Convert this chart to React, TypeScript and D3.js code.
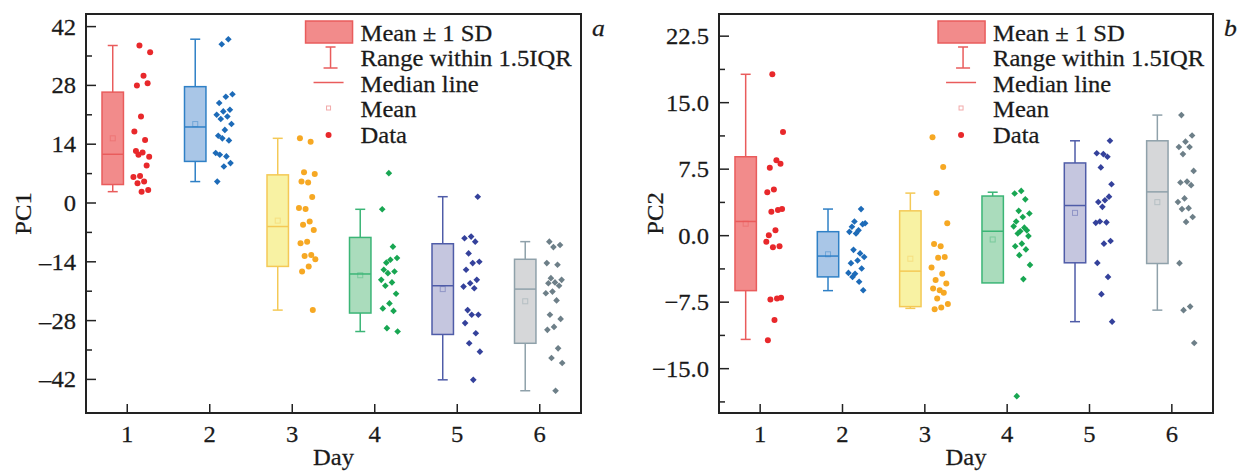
import React from 'react';
import * as d3 from 'd3';

// ---- data ----
const days = [1, 2, 3, 4, 5, 6];
const legendLabels = ['Mean \u00b1 1 SD', 'Range within 1.5IQR', 'Median line', 'Mean', 'Data'];

const pc1Ticks = [-42, -28, -14, 0, 14, 28, 42];
const pc1Minor = [-35, -21, -7, 7, 21, 35];
const pc1Mean = [15.4, 18.8, -4.2, -17.2, -20.5, -23.4];
const pc1Sd = [11.0, 8.9, 10.9, 9.0, 10.8, 10.0];
const pc1Median = [11.6, 18.1, -5.6, -16.9, -19.7, -20.5];
const pc1Low = [2.7, 5.1, -25.5, -30.6, -42.1, -44.7];
const pc1High = [37.5, 39.0, 15.4, -1.5, 1.5, -9.2];
const pc1Points = [
  [37.5, 35.9, 30.3, 28.0, 28.5, 20.6, 17.0, 15.0, 11.5, 11.0, 12.0, 12.4, 8.9, 6.4, 6.2, 5.1, 4.7, 3.1, 2.7],
  [39.0, 37.8, 25.9, 25.3, 23.8, 22.2, 21.8, 21.0, 20.6, 20.0, 18.8, 17.4, 16.0, 14.9, 15.4, 11.9, 11.1, 11.5, 9.5, 8.7, 5.1],
  [15.4, 14.6, 7.3, 6.9, 4.9, 5.1, 1.4, -1.4, -1.2, -4.4, -5.2, -6.4, -9.2, -9.6, -12.4, -12.6, -13.4, -15.1, -16.3, -25.5],
  [7.1, -1.5, -10.4, -14.2, -13.1, -13.5, -15.9, -16.3, -16.7, -18.3, -18.9, -19.7, -21.6, -23.9, -25.1, -25.7, -29.8, -30.6],
  [1.5, -8.0, -8.4, -9.2, -12.0, -14.0, -14.3, -15.9, -18.3, -19.1, -19.9, -20.3, -25.5, -26.6, -26.6, -28.6, -31.0, -33.4, -35.4, -42.1],
  [-9.2, -10.0, -10.5, -14.3, -14.7, -17.9, -18.3, -18.9, -19.1, -19.7, -21.1, -21.5, -23.2, -26.6, -27.6, -29.5, -30.2, -34.6, -36.9, -38.1, -44.7],
];

const pc2Ticks = [-15, -7.5, 0, 7.5, 15, 22.5];
const pc2Minor = [-18.75, -11.25, -3.75, 3.75, 11.25, 18.75];
const pc2Mean = [1.35, -2.1, -2.6, -0.43, 2.57, 3.78];
const pc2Sd = [7.55, 2.55, 5.4, 4.9, 5.63, 6.92];
const pc2Median = [1.6, -2.3, -4.0, 0.5, 3.4, 4.94];
const pc2Low = [-11.7, -6.2, -8.2, -5.0, -9.7, -8.4];
const pc2High = [18.2, 3.0, 4.8, 4.9, 10.7, 13.6];
const pc2Points = [
  [18.2, 11.7, 8.5, 7.65, 8.1, 5.2, 4.9, 2.9, 2.7, 3.0, 0.6, 0.05, -1.2, -1.3, -0.7, -7.1, -7.2, -7.0, -9.5, -11.8],
  [3.0, 1.6, 1.4, 0.6, 1.0, 1.3, 0.25, 0.43, -2.0, -1.6, -2.4, -2.8, -3.1, -3.7, -4.3, -4.2, -5.2, -4.65, -6.15],
  [11.1, 7.75, 4.8, 1.4, -1.2, -0.95, -2.4, -2.5, -3.6, -4.3, -5.0, -5.4, -6.15, -5.95, -6.45, -7.1, -7.7, -8.1, -8.3],
  [5.05, 4.75, 4.1, 2.8, 2.5, 2.1, 1.6, 0.6, 0.5, 1.05, 0.9, 0.25, -0.05, -0.9, -1.2, -1.55, -2.2, -3.3, -4.9, -18.1],
  [10.7, 9.2, 9.3, 8.9, 7.7, 5.8, 4.0, 3.8, 4.4, 3.25, 1.45, 1.5, 1.6, -0.6, -0.9, -3.07, -4.65, -6.6, -9.7],
  [13.6, 11.3, 10.6, 10.0, 10.0, 9.2, 7.3, 6.1, 6.0, 5.7, 4.2, 3.8, 3.1, 3.0, 2.1, 1.55, -3.1, -8.0, -8.4, -12.1],
];

// ---- styles ----
const boxFill = ['#f28b8b', '#a9c6e7', '#f8f2a3', '#aadcbc', '#c5c6df', '#d6d7d9'];
const boxStroke = ['#e95c5c', '#2f80c6', '#f4c956', '#3bb576', '#4f5ca8', '#8fa1aa'];
const ptColor = ['#e8282b', '#1d6bb8', '#f6a823', '#18a652', '#34419b', '#6d7f88'];
const FONT = "Liberation Serif, Times New Roman, serif";
const SX = 1.07;

function Txt(props: any) {
  const { x, y, anchor = 'start', size = 23, rotate = 0, italic = false, dy, children } = props;
  return (
    <text
      transform={`translate(${x},${y}) rotate(${rotate}) scale(${SX},1)`}
      textAnchor={anchor}
      fontSize={size}
      fontStyle={italic ? 'italic' : 'normal'}
      fontFamily={FONT}
      fill="#1a1a1a"
      stroke="#1a1a1a"
      strokeWidth={0.25}
      dy={dy}
    >
      {children}
    </text>
  );
}

function jitter(k: number, d: number) {
  const f = ((k * 0.618034 + d * 0.37) % 1);
  return 0.07 + 0.21 * f;
}

function Panel(props: any) {
  const { left, right, top, bottom, domain, ticks, minor, fmt, title, letter,
    mean, sd, median, low, high, points } = props;
  const x = d3.scaleLinear().domain([0.5, 6.5]).range([left, right]);
  const y = d3.scaleLinear().domain(domain).range([bottom, top]);
  const bw = x(0.13) - x(0);
  const diamond = d3.symbol().type(d3.symbolSquare).size(22)() as string;
  const lx = left + (right - left) * 0.49;

  return (
    <g>
      {days.map((d, i) => {
        const cx = x(d - 0.176);
        return (
          <g key={d}>
            <line x1={cx} x2={cx} y1={y(high[i])} y2={y(low[i])} stroke={boxStroke[i]} strokeWidth={1.5} />
            <line x1={cx - 5} x2={cx + 5} y1={y(high[i])} y2={y(high[i])} stroke={boxStroke[i]} strokeWidth={1.5} />
            <line x1={cx - 5} x2={cx + 5} y1={y(low[i])} y2={y(low[i])} stroke={boxStroke[i]} strokeWidth={1.5} />
            <rect x={cx - bw} width={bw * 2} y={y(mean[i] + sd[i])} height={y(mean[i] - sd[i]) - y(mean[i] + sd[i])}
              fill={boxFill[i]} stroke={boxStroke[i]} strokeWidth={1.5} />
            <line x1={cx - bw} x2={cx + bw} y1={y(median[i])} y2={y(median[i])} stroke={boxStroke[i]} strokeWidth={1.5} />
            <rect x={cx - 2.5} y={y(mean[i]) - 2.5} width={5} height={5} fill="none" stroke={boxStroke[i]} strokeOpacity={0.45} strokeWidth={1} />
            {points[i].map((v: number, k: number) => {
              const px = x(d + jitter(k, d));
              const py = y(v);
              return (i === 0 || i === 2)
                ? <circle key={k} cx={px} cy={py} r={3} fill={ptColor[i]} />
                : <path key={k} d={diamond} transform={`translate(${px},${py}) rotate(45)`} fill={ptColor[i]} />;
            })}
          </g>
        );
      })}

      {/* legend */}
      <rect x={lx - 23} y={top + 7} width={47} height={22} fill="#f28b8b" stroke="#e95c5c" strokeWidth={1.5} />
      <line x1={lx + 2} x2={lx + 2} y1={top + 33} y2={top + 54} stroke="#e95c5c" strokeWidth={1.5} />
      <line x1={lx - 3} x2={lx + 7} y1={top + 33} y2={top + 33} stroke="#e95c5c" strokeWidth={1.5} />
      <line x1={lx - 5} x2={lx + 9} y1={top + 54} y2={top + 54} stroke="#e95c5c" strokeWidth={1.5} />
      <line x1={lx - 15} x2={lx + 15} y1={top + 68.5} y2={top + 68.5} stroke="#e95c5c" strokeWidth={1.5} />
      <rect x={lx - 2} y={top + 92} width={4} height={4} fill="none" stroke="#f2a9a9" strokeWidth={1} />
      <circle cx={lx} cy={top + 121} r={3} fill="#e8282b" />
      {legendLabels.map((t, i) => (
        <Txt key={t} x={lx + 32} y={top + 26.5 + i * 25.5}>{t}</Txt>
      ))}

      {/* axes frame */}
      <rect x={left} y={top} width={right - left} height={bottom - top} fill="none" stroke="#222" strokeWidth={2} />
      {ticks.map((t: number) => (
        <g key={t}>
          <line x1={left} x2={left + 10} y1={y(t)} y2={y(t)} stroke="#222" strokeWidth={1.5} />
          <Txt x={left - 10} y={y(t)} anchor="end" dy="0.35em">{fmt(t)}</Txt>
        </g>
      ))}
      {minor.map((t: number) => (
        <line key={t} x1={left} x2={left + 6} y1={y(t)} y2={y(t)} stroke="#222" strokeWidth={1.5} />
      ))}
      {days.map((d) => (
        <g key={d}>
          <line x1={x(d)} x2={x(d)} y1={bottom} y2={bottom - 9} stroke="#222" strokeWidth={1.5} />
          <Txt x={x(d)} y={bottom + 29} anchor="middle">{d}</Txt>
        </g>
      ))}
      <Txt x={(left + right) / 2} y={bottom + 52} anchor="middle">Day</Txt>
      <Txt x={props.titleX} y={(top + bottom) / 2} anchor="middle" rotate={-90}>{title}</Txt>
      <Txt x={right + 11} y={top + 22} italic size={24}>{letter}</Txt>
    </g>
  );
}

export default function App() {
  const minus = (s: string) => s.replace('-', '\u2013');
  return (
    <svg width={1243} height={471} style={{ position: 'absolute', left: 0, top: 0, background: '#fff' }}>
      <Panel left={86} right={581} top={14} bottom={413} domain={[-50, 45]}
        ticks={pc1Ticks} minor={pc1Minor} fmt={(t: number) => minus(String(t))}
        title="PC1" titleX={31} letter="a"
        mean={pc1Mean} sd={pc1Sd} median={pc1Median} low={pc1Low} high={pc1High} points={pc1Points} />
      <Panel left={719} right={1213} top={14} bottom={413} domain={[-20, 25]}
        ticks={pc2Ticks} minor={pc2Minor} fmt={(t: number) => minus(d3.format('.1f')(t))}
        title="PC2" titleX={663} letter="b"
        mean={pc2Mean} sd={pc2Sd} median={pc2Median} low={pc2Low} high={pc2High} points={pc2Points} />
    </svg>
  );
}
